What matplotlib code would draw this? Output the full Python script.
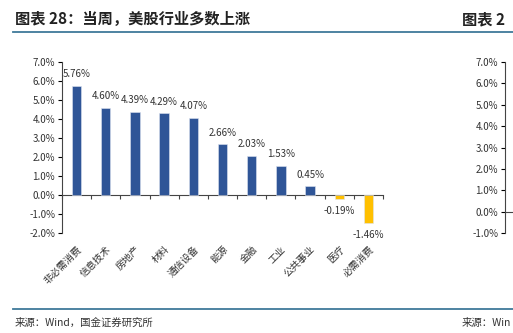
import matplotlib
matplotlib.use("Agg")
import matplotlib.pyplot as plt
from matplotlib.lines import Line2D

plt.rcParams['font.family'] = ['Noto Sans CJK SC', 'DejaVu Sans']

categories = ["非必需消费", "信息技术", "房地产", "材料", "通信设备", "能源",
              "金融", "工业", "公共事业", "医疗", "必需消费"]
values = [5.76, 4.60, 4.39, 4.29, 4.07, 2.66, 2.03, 1.53, 0.45, -0.19, -1.46]
y_ticks = [-2, -1, 0, 1, 2, 3, 4, 5, 6, 7]
y_ticks_next = [-1, 0, 1, 2, 3, 4, 5, 6, 7]

W, H = 513, 333
fig = plt.figure(figsize=(W / 100, H / 100), dpi=100)

BLUE = "#2F5597"
GOLD = "#FFC000"
LINE = "#3F7A9A"
TXT = "#333333"

# header / footer lines
fig.add_artist(Line2D([13 / W, 1], [1 - 32 / H] * 2, color=LINE, lw=1.3))
fig.add_artist(Line2D([13 / W, 1], [1 - 309 / H] * 2, color=LINE, lw=1.3))
fig.text(15 / W, 1 - 19 / H, "图表 28：当周，美股行业多数上涨", fontsize=11,
         fontweight="bold", color="#222222", va="center", style="italic")
# the next chart is cut off by the page edge
fig.text(462 / W, 1 - 19 / H, "图表 2", fontsize=11,
         fontweight="bold", color="#222222", va="center", style="italic")
fig.text(15 / W, 1 - 323 / H, "来源：Wind，国金证券研究所", fontsize=7.5,
         color=TXT, va="center")
fig.text(462 / W, 1 - 323 / H, "来源：Win", fontsize=7.5,
         color=TXT, va="center")

# main chart
ax = fig.add_axes([62 / W, 1 - 233 / H, 321 / W, 171 / H])
x = [i + 0.5 for i in range(len(values))]
colors = [BLUE if v >= 0 else GOLD for v in values]
ax.bar(x, values, width=0.32, color=colors, edgecolor="#dde3f0", linewidth=0.4)
ax.set_xlim(0, len(values))
ax.set_ylim(-2, 7)
ax.set_yticks(y_ticks)
ax.set_yticklabels([f"{t:.1f}%" for t in y_ticks])
ax.tick_params(axis="y", direction="out", length=3, width=0.8, labelsize=7,
               labelcolor=TXT, pad=2)
for s in ["top", "right", "bottom"]:
    ax.spines[s].set_visible(False)
ax.spines["left"].set_color("#444444")
ax.spines["left"].set_linewidth(0.8)

ax.set_xticks(x)
ax.set_xticklabels(categories, rotation=45, ha="right", va="top",
                   rotation_mode="anchor", fontsize=7, color=TXT)
ax.tick_params(axis="x", length=0, pad=8)

zero = ax.secondary_xaxis(0, transform=ax.transData)
zero.set_xticks(range(len(values) + 1))
zero.tick_params(direction="out", length=3, width=0.8, labelbottom=False,
                 color="#444444")
zero.spines["bottom"].set_color("#444444")
zero.spines["bottom"].set_linewidth(0.8)

for xi, v in zip(x, values):
    if v >= 0:
        ax.annotate(f"{v:.2f}%", (xi, v), xytext=(0, 5), textcoords="offset points",
                    ha="center", va="bottom", fontsize=7, color=TXT)
    else:
        ax.annotate(f"{v:.2f}%", (xi, v), xytext=(0, -5), textcoords="offset points",
                    ha="center", va="top", fontsize=7, color=TXT)

# next chart, cut off at the right edge
ax2 = fig.add_axes([505 / W, 1 - 233 / H, 321 / W, 171 / H])
ax2.set_ylim(-1, 7)
ax2.set_xlim(0, 10)
ax2.set_yticks(y_ticks_next)
ax2.set_yticklabels([f"{t:.1f}%" for t in y_ticks_next])
ax2.tick_params(axis="y", direction="out", length=3, width=0.8, labelsize=7,
                labelcolor=TXT, pad=2)
ax2.set_xticks([])
for s in ["top", "right", "bottom"]:
    ax2.spines[s].set_visible(False)
ax2.spines["left"].set_color("#444444")
ax2.spines["left"].set_linewidth(0.8)
ax2.axhline(0, color="#444444", lw=0.8)

fig.savefig("out.png", dpi=100)
